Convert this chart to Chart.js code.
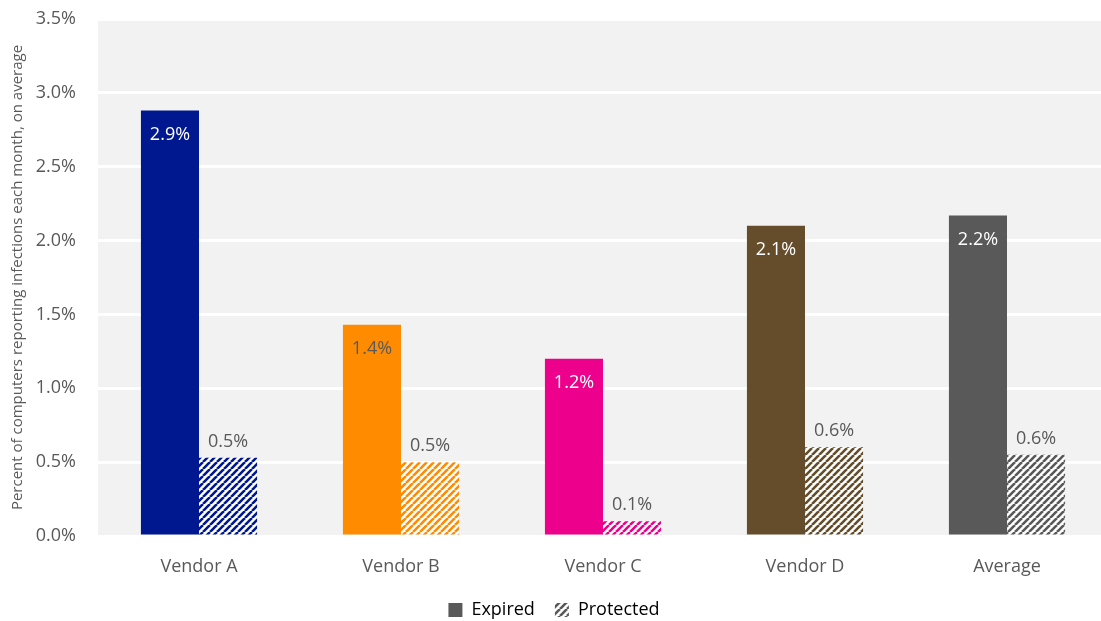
<!DOCTYPE html>
<html>
<head>
<meta charset="utf-8">
<script src="https://cdn.jsdelivr.net/npm/chart.js@4/dist/chart.umd.min.js"></script>
<style>
  html, body { margin: 0; padding: 0; background: #fff; overflow: hidden; }
  #wrap { width: 1108px; height: 621px; position: relative; }
</style>
</head>
<body>
<div id="wrap"><canvas id="chart"></canvas></div>
<script>
const categories = ['Vendor A', 'Vendor B', 'Vendor C', 'Vendor D', 'Average'];
const expired = [2.88, 1.43, 1.20, 2.10, 2.17];
const protectedVals = [0.53, 0.50, 0.10, 0.60, 0.55];
const expiredLabels = ['2.9%', '1.4%', '1.2%', '2.1%', '2.2%'];
const protectedLabels = ['0.5%', '0.5%', '0.1%', '0.6%', '0.6%'];
const colors = ['#00188F', '#FF8C00', '#EC008C', '#654D2B', '#595959'];

const FONT = '"Open Sans", "Noto Sans", sans-serif';
const GREY = '#595959';

function hatch(color) {
  const s = 7;
  const c = document.createElement('canvas');
  c.width = s; c.height = s;
  const x = c.getContext('2d');
  x.fillStyle = '#fff';
  x.fillRect(0, 0, s, s);
  x.strokeStyle = color;
  x.lineWidth = 2.6;
  x.beginPath();
  // "/" stripes, tiled
  for (let k = -1; k <= 1; k++) {
    x.moveTo(k * s, s);
    x.lineTo(k * s + s, 0);
  }
  x.stroke();
  return x.createPattern(c, 'repeat');
}

const plotBg = {
  id: 'plotBg',
  beforeDraw(chart) {
    const { ctx, chartArea: a } = chart;
    ctx.save();
    ctx.fillStyle = '#F2F2F2';
    ctx.fillRect(a.left, a.top, a.right - a.left, a.bottom - a.top);
    ctx.restore();
  }
};

const valueLabels = {
  id: 'valueLabels',
  afterDatasetsDraw(chart) {
    const ctx = chart.ctx;
    ctx.save();
    ctx.font = '18px ' + FONT;
    ctx.textAlign = 'center';
    ctx.textBaseline = 'middle';
    chart.getDatasetMeta(0).data.forEach((bar, i) => {
      ctx.fillStyle = i === 1 ? GREY : '#fff';
      ctx.fillText(expiredLabels[i], bar.x, bar.y + 24);
    });
    chart.getDatasetMeta(1).data.forEach((bar, i) => {
      ctx.fillStyle = GREY;
      ctx.fillText(protectedLabels[i], bar.x, bar.y - 16);
    });
    ctx.restore();
  }
};

new Chart(document.getElementById('chart'), {
  type: 'bar',
  data: {
    labels: categories,
    datasets: [
      { label: 'Expired', data: expired, backgroundColor: colors },
      { label: 'Protected', data: protectedVals, backgroundColor: colors.map(hatch) }
    ]
  },
  options: {
    responsive: true,
    maintainAspectRatio: false,
    animation: false,
    datasets: { bar: { categoryPercentage: 0.575, barPercentage: 1 } },
    layout: { padding: { top: 19, right: 0, left: 0, bottom: -8 } },
    scales: {
      x: {
        afterFit(s) { s.height = 45; },
        grid: { display: false, drawTicks: false },
        border: { display: false },
        ticks: { color: GREY, font: { family: FONT, size: 18 }, padding: 20 }
      },
      y: {
        min: 0, max: 3.5,
        afterFit(s) { s.width = 98; s.paddingTop = 0; s.paddingBottom = 0; },
        grid: { color: '#FFFFFF', lineWidth: 3, drawTicks: false },
        border: { display: false },
        ticks: {
          stepSize: 0.5, color: GREY, padding: 22,
          font: { family: FONT, size: 18 },
          callback: v => v.toFixed(1) + '%'
        },
        title: {
          display: true,
          text: 'Percent of computers reporting infections each month, on average',
          color: GREY,
          font: { family: FONT, size: 15 },
          padding: { top: 9, bottom: 0 }
        }
      }
    },
    plugins: {
      tooltip: { enabled: false },
      legend: {
        position: 'bottom',
        align: 'center',
        labels: {
          color: GREY,
          font: { family: FONT, size: 18 },
          boxWidth: 14, boxHeight: 14, padding: 20,
          generateLabels(chart) {
            return [
              { text: 'Expired', fillStyle: GREY, strokeStyle: GREY, lineWidth: 0, datasetIndex: 0 },
              { text: 'Protected', fillStyle: hatch(GREY), strokeStyle: GREY, lineWidth: 0, datasetIndex: 1 }
            ];
          }
        }
      }
    }
  },
  plugins: [plotBg, valueLabels]
});
</script>
</body>
</html>
